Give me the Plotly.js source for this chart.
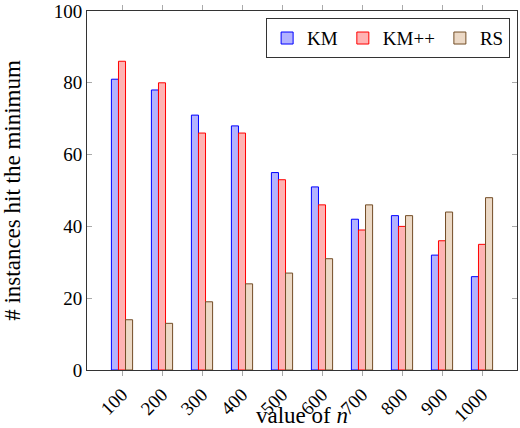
<!DOCTYPE html>
<html>
<head>
<meta charset="utf-8">
<script src="https://cdn.plot.ly/plotly-3.0.1.min.js"></script>
<style>
  html, body { margin: 0; padding: 0; background: #fff; }
  #chart { width: 520px; height: 428px; }
  #chart text { font-family: "Liberation Serif", serif !important; }
</style>
</head>
<body>
<div id="chart"></div>
<script>
const categories = ["100", "200", "300", "400", "500", "600", "700", "800", "900", "1000"];
const kmValues = [81, 78, 71, 68, 55, 51, 42, 43, 32, 26];
const kmppValues = [86, 80, 66, 66, 53, 46, 39, 40, 36, 35];
const rsValues = [14, 13, 19, 24, 27, 31, 46, 43, 44, 48];
const yTicks = [0, 20, 40, 60, 80, 100];

function barTrace(name, values, fill, stroke) {
    return {
        type: "bar",
        name: name,
        x: categories,
        y: values,
        marker: { color: fill, line: { color: stroke, width: 1 } },
        hoverinfo: "skip"
    };
}

const traces = [
    barTrace("KM", kmValues, "rgb(179,179,255)", "rgb(0,0,255)"),
    barTrace("KM++", kmppValues, "rgb(255,179,179)", "rgb(255,0,0)"),
    barTrace("RS", rsValues, "rgb(236,217,198)", "rgb(115,77,38)")
];

const layout = {
    width: 520,
    height: 428,
    margin: { l: 87, r: 3, t: 11, b: 58 },
    paper_bgcolor: "#fff",
    plot_bgcolor: "#fff",
    font: { family: "Liberation Serif", size: 19, color: "#000" },
    barmode: "group",
    bargap: 0.47,
    bargroupgap: 0,
    xaxis: {
        type: "category",
        range: [-0.875, 9.875],
        showline: true,
        linecolor: "#333",
        linewidth: 1,
        mirror: "allticks",
        ticks: "outside",
        ticklen: 5,
        tickcolor: "#aaa",
        tickangle: -45,
        showgrid: false,
        zeroline: false,
        title: { text: "value of <i>n</i>", standoff: 4 }
    },
    yaxis: {
        range: [0, 100],
        tickvals: yTicks,
        showline: true,
        linecolor: "#333",
        linewidth: 1,
        mirror: "allticks",
        ticks: "inside",
        ticklen: 5,
        tickcolor: "#aaa",
        showgrid: false,
        zeroline: false,
        title: { text: "# instances hit the minimum", standoff: 28 }
    },
    showlegend: true,
    legend: {
        orientation: "h",
        x: 0.984,
        xanchor: "right",
        y: 0.98,
        yanchor: "top",
        bordercolor: "#333",
        borderwidth: 1,
        bgcolor: "#fff",
        itemwidth: 30
    }
};

Plotly.newPlot("chart", traces, layout, { displayModeBar: false });
</script>
</body>
</html>
